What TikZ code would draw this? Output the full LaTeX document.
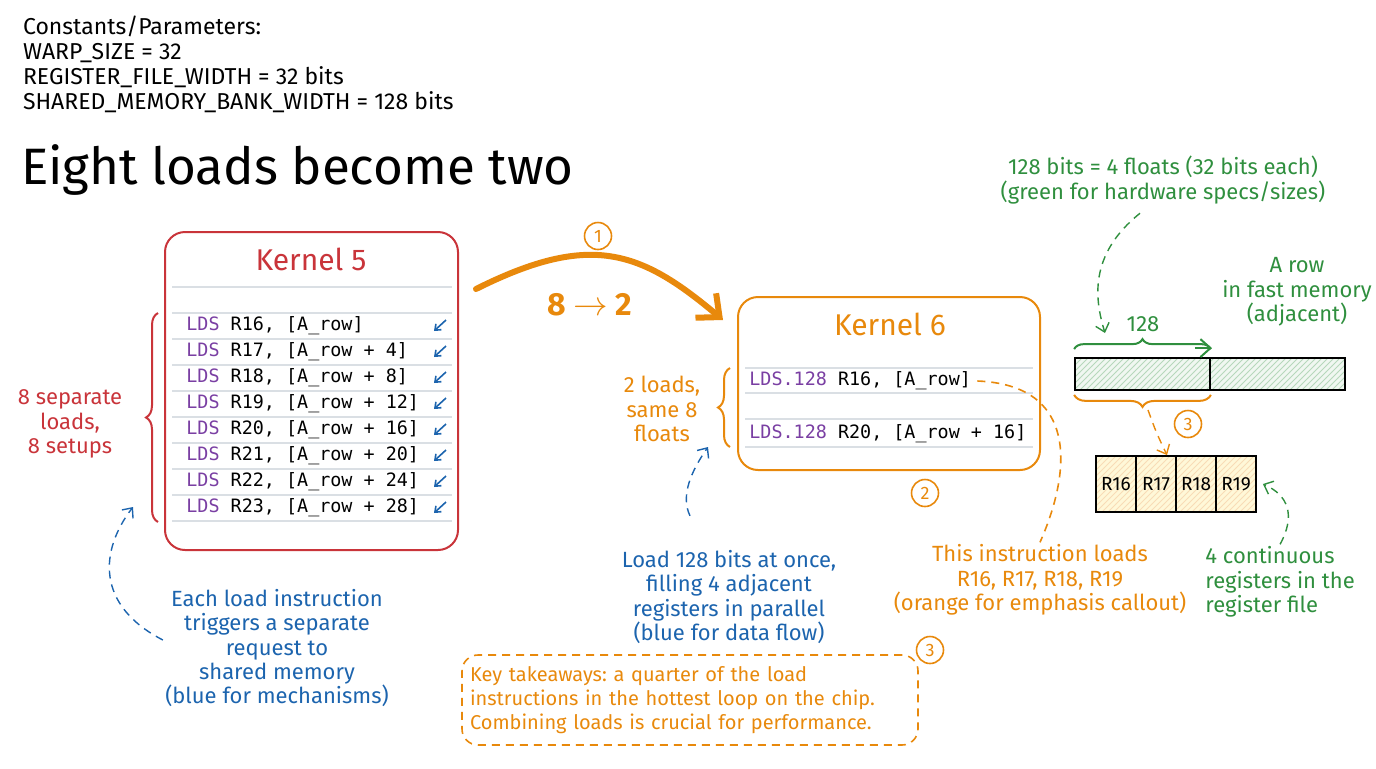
\documentclass[tikz,border=0pt]{standalone}
\usepackage{fontspec}
\setmainfont{Fira Sans}
\setmonofont{DejaVu Sans Mono}
\usetikzlibrary{arrows.meta, positioning, decorations.pathreplacing, patterns, calc}
\definecolor{InkRed}{HTML}{C9343A}
\definecolor{InkOrange}{HTML}{E8890C}
\definecolor{InkBlue}{HTML}{1C64AE}
\definecolor{InkGreen}{HTML}{2F8F3E}
\definecolor{InkPurple}{HTML}{7A3FA3}
\definecolor{RuleGray}{HTML}{DADFE4}
\definecolor{RegFill}{HTML}{FFF8D8}
\frenchspacing

\begin{document}
\begin{tikzpicture}[x=0.5pt, y=-0.5pt,
  font=\fontsize{11}{12.2}\selectfont,
  kbox/.style={rounded corners=10pt, line width=1pt, fill=white},
  ktitle/.style={font=\fontsize{15}{17}\selectfont},
  code/.style={anchor=west, inner sep=0pt, font=\ttfamily\fontsize{9.2}{11}\selectfont},
  rowline/.style={RuleGray, line width=0.8pt},
  lbl/.style={align=center, inner sep=1pt},
  numcirc/.style={circle, draw, line width=0.8pt, inner sep=0pt, minimum size=13.5pt,
              font=\fontsize{9}{9}\selectfont},
  dashlink/.style={line width=0.7pt, dash pattern=on 4pt off 3pt,
              -{Straight Barb[length=4pt, width=7pt]}},
  curly/.style={decorate, decoration={brace, amplitude=6pt}, line width=1pt},
  memcell/.style={line width=0.9pt, minimum width=67.5pt, minimum height=16pt,
              inner sep=0pt, fill=InkGreen!7, postaction={pattern=north east lines, pattern color=InkGreen!35},
              postaction={draw=black, line width=0.9pt}},
  regcell/.style={line width=0.9pt, minimum width=20pt, minimum height=28pt,
              inner sep=0pt, fill=RegFill, postaction={pattern=north east lines, pattern color=InkOrange!30},
              postaction={draw=black, line width=0.9pt},
              font=\fontsize{9.5}{10}\selectfont}]
\useasboundingbox (0,0) rectangle (1376,768);

% header
\node[anchor=north west, align=left, font=\fontsize{11.5}{12.5}\selectfont] (consts) at (16,9)
  {Constants/Parameters:\\WARP\_SIZE = 32\\REGISTER\_FILE\_WIDTH = 32 bits\\SHARED\_MEMORY\_BANK\_WIDTH = 128 bits};
\node[anchor=west, font=\fontsize{25.6}{28}\selectfont] (title) at (14,170) {Eight loads become two};

% kernel 5
\node[kbox, draw=InkRed, minimum width=146.5pt, minimum height=159pt] (k5) at (311.5,391) {};
\node[ktitle, text=InkRed] (k5t) at (311,259) {Kernel 5};
\draw[rowline] (172,287) -- (452,287);
\foreach \yy in {313,339,...,521} \draw[rowline] (172,\yy) -- (452,\yy);
\foreach \reg/\addr [count=\i from 0] in {16/{A\_row}, 17/{A\_row + 4}, 18/{A\_row + 8},
    19/{A\_row + 12}, 20/{A\_row + 16}, 21/{A\_row + 20}, 22/{A\_row + 24}, 23/{A\_row + 28}} {
  \pgfmathsetmacro\yy{326+26*\i}
  \node[code] (k5r\i) at (186,\yy) {\textcolor{InkPurple}{LDS} R\reg, [\addr]};
  \draw[InkBlue, line width=0.8pt, -{Straight Barb[length=2.5pt, width=4pt]}] (446,\yy-6) -- (434,\yy+5);
}
\draw[curly, InkRed] (158,522) -- (158,313);
\node[lbl, text=InkRed] (sepLbl) at (70,424) {8 separate\\loads,\\8 setups};
\node[lbl, text=InkBlue] (mechLbl) at (277,648)
  {Each load instruction\\triggers a separate\\request to\\shared memory\\(blue for mechanisms)};
\coordinate (b5tip) at (133,507);
\draw[dashlink, InkBlue] ([yshift=4pt]mechLbl.west) .. controls (95,605) and (100,550) .. (b5tip);

% kernel 6
\node[kbox, draw=InkOrange, minimum width=151pt, minimum height=86.5pt] (k6) at (889,383.5) {};
\node[ktitle, text=InkOrange] (k6t) at (890,324) {Kernel 6};
\foreach \yy in {368,393,419,447} \draw[rowline] (745,\yy) -- (1033,\yy);
\node[code] (k6r0) at (749,381) {\textcolor{InkPurple}{LDS.128} R16, [A\_row]};
\node[code] (k6r1) at (749,434) {\textcolor{InkPurple}{LDS.128} R20, [A\_row + 16]};
\draw[curly, InkOrange] (730,447) -- (730,368);
\node[lbl, text=InkOrange] (twoLbl) at (662,409) {2 loads,\\same 8\\floats};
\node[numcirc, draw=InkOrange, text=InkOrange] (n2) at (925,493) {2};
\node[lbl, text=InkBlue] (flowLbl) at (729,597)
  {Load 128 bits at once,\\filling 4 adjacent\\registers in parallel\\(blue for data flow)};
\coordinate (b6tip) at (708,447);
\draw[dashlink, InkBlue] ([shift={(-39,-32)}]flowLbl.north) .. controls (680,495) and (692,470) .. (b6tip);
\node[lbl, text=InkOrange] (emphLbl) at (1040,580)
  {This instruction loads\\R16, R17, R18, R19\\(orange for emphasis callout)};
\draw[InkOrange, line width=0.8pt, dash pattern=on 4pt off 3pt] ([xshift=3pt]k6r0.east)
  .. controls (1078,385) and (1072,470) .. (emphLbl.north);

% kernel 5 -> kernel 6
\draw[InkOrange, line width=3pt, line cap=round, -{Straight Barb[length=9pt, width=16pt]}]
  ([shift={(17,58)}]k5.north east) .. controls (590,232) and (640,250) .. ([shift={(-14,24)}]k6.north west);
\node[numcirc, draw=InkOrange, text=InkOrange] (n1) at (598,236) {1};
\node[text=InkOrange, font=\fontsize{16}{18}\selectfont\bfseries] (ratio) at (590,305) {8 $\rightarrow$ 2};

% fast memory row
\node[lbl, text=InkGreen] (specLbl) at (1163,180)
  {128 bits = 4 floats (32 bits each)\\(green for hardware specs/sizes)};
\node[lbl, text=InkGreen] (rowLbl) at (1297,292) {A row\\in fast memory\\(adjacent)};
\node[memcell] (m0) at (1142.5,374) {};
\node[memcell] (m1) at (1277.5,374) {};
\draw[curly, InkGreen, decoration={brace, amplitude=5pt}] ([yshift=4pt]m0.north west) -- ([yshift=4pt]m0.north east);
\draw[InkGreen, line width=1pt, -{Straight Barb[length=5pt, width=9pt]}]
  ([shift={(-16,-9)}]m0.north east) -- ([shift={(1,-9)}]m0.north east);
\node[text=InkGreen] (w128) at (1143,324) {128};
\coordinate (g1tip) at (1105,333);
\draw[dashlink, InkGreen] ([shift={(-23,7)}]specLbl.south) .. controls (1088,255) and (1095,300) .. (g1tip);
\draw[curly, InkOrange] ([yshift=-2pt]m0.south east) -- ([yshift=-2pt]m0.south west);
\coordinate (o3tail) at (1148,410);
\node[numcirc, draw=InkOrange, text=InkOrange] (n3a) at (1188,424) {3};

% registers
\foreach \r [count=\k from 0] in {16,17,18,19}
  \node[regcell] (rg\r) at ({1116+40*\k},484) {R\r};
\draw[dashlink, InkOrange] (o3tail) .. controls (1156,432) .. ([xshift=5.5pt]rg17.north);
\node[anchor=west, align=left, text=InkGreen, inner sep=1pt] (regLbl) at (1203,582)
  {4 continuous\\registers in the\\register file};
\draw[dashlink, InkGreen] (regLbl.north) .. controls (1296,515) and (1288,495) .. ([xshift=3pt]rg19.east);

% takeaways
\node[draw=InkOrange, line width=0.8pt, dash pattern=on 4pt off 3pt, rounded corners=8pt,
  minimum width=228pt, minimum height=45pt, text width=220pt, align=left, text=InkOrange,
  font=\fontsize{10}{12}\selectfont] (keyBox) at (690,700)
  {Key takeaways: a quarter of the load\\instructions in the hottest loop on the chip.\\Combining loads is crucial for performance.};
\node[numcirc, draw=InkOrange, text=InkOrange] (n3b) at (930,650) {3};
\end{tikzpicture}
\end{document}
